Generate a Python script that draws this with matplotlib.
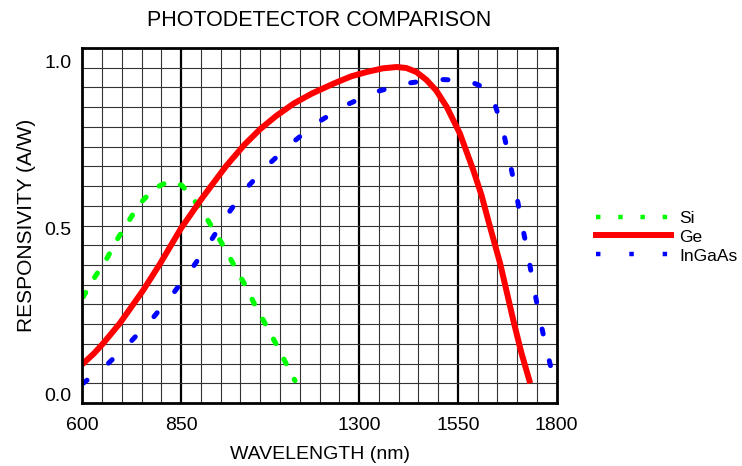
import matplotlib
matplotlib.use("Agg")
import matplotlib.pyplot as plt
import numpy as np
from matplotlib.lines import Line2D

plt.rcParams["font.family"] = ["Liberation Sans", "DejaVu Sans"]

# Responsivity curves (wavelength nm, A/W)
si_nm = [602, 632, 662, 687, 716, 746, 782, 808, 830, 852, 872, 905, 931,
         961, 986, 1012, 1037, 1062, 1087, 1113, 1138]
si_resp = [0.294, 0.354, 0.409, 0.464, 0.519, 0.574, 0.619, 0.634, 0.639,
           0.628, 0.601, 0.549, 0.497, 0.439, 0.384, 0.329, 0.269, 0.215,
           0.160, 0.100, 0.043]

ge_nm = [600, 630, 653, 695, 754, 797, 850, 900, 930, 965, 1010, 1050, 1090,
         1134, 1180, 1235, 1280, 1319, 1360, 1395, 1420, 1445, 1470, 1495,
         1522, 1555, 1589, 1610, 1629, 1657, 1690, 1711, 1733]
ge_resp = [0.092, 0.125, 0.155, 0.215, 0.314, 0.394, 0.500, 0.585, 0.633,
           0.688, 0.750, 0.797, 0.836, 0.873, 0.903, 0.933, 0.955, 0.968,
           0.979, 0.983, 0.980, 0.968, 0.945, 0.913, 0.863, 0.784, 0.674,
           0.598, 0.514, 0.394, 0.225, 0.125, 0.035]

ingaas_nm = [602, 666, 725, 780, 831, 879, 925, 969, 1016, 1071, 1130, 1193,
             1262, 1336, 1414, 1494, 1574, 1610, 1638, 1663, 1680, 1696, 1711,
             1727, 1741, 1756, 1773, 1792]
ingaas_resp = [0.035, 0.095, 0.163, 0.233, 0.306, 0.382, 0.462, 0.544, 0.621,
               0.691, 0.755, 0.815, 0.866, 0.906, 0.933, 0.946, 0.943, 0.925,
               0.891, 0.800, 0.707, 0.614, 0.519, 0.424, 0.329, 0.237, 0.143,
               0.050]

xticks = [600, 850, 1300, 1550, 1800]
yticks = [0.0, 0.5, 1.0]
ytick_labels = ["0.0", "0.5", "1.0"]

GREEN = "#00ff00"
RED = "#ff0000"
BLUE = "#0000ff"

fig = plt.figure(figsize=(7.42, 4.66), dpi=100)
ax = fig.add_axes([82.3 / 742, 1 - 403 / 466, (556.7 - 82.3) / 742, (403 - 48) / 466])

ylo, yhi = -0.024, 1.040
ax.set_xlim(600, 1800)
ax.set_ylim(ylo, yhi)

# chart paper grid
for gx in np.arange(650, 1800, 50):
    thick = gx in (850, 1300, 1550)
    ax.axvline(gx, color="black" if thick else "#333333",
               lw=1.6 if thick else 0.8, zorder=1)
for gy in np.linspace(ylo, yhi, 19)[1:-1]:
    ax.axhline(gy, color="#333333", lw=0.8, zorder=1)

ax.plot(si_nm, si_resp, color=GREEN, lw=3.7, linestyle=(0, (1, 3.4)),
        dash_capstyle="round", zorder=3)
ax.plot(ge_nm, ge_resp, color=RED, lw=4.3, solid_capstyle="butt",
        solid_joinstyle="round", zorder=3)
ax.plot(ingaas_nm, ingaas_resp, color=BLUE, lw=3.6, linestyle=(0, (1.0, 5.5)),
        dash_capstyle="round", zorder=3)

for s in ax.spines.values():
    s.set_linewidth(2.0)
    s.set_zorder(4)

ax.set_xticks(xticks)
ax.set_yticks(yticks)
ax.set_yticklabels(ytick_labels)
ax.tick_params(length=0, labelsize=14, pad=8)
ax.tick_params(axis="x", pad=10)

ax.set_title("PHOTODETECTOR COMPARISON", fontsize=15.5, pad=16)
ax.set_xlabel("WAVELENGTH (nm)", fontsize=14, labelpad=9)
ax.set_ylabel("RESPONSIVITY (A/W)", fontsize=15, labelpad=6)

handles = [
    Line2D([0], [0], color=GREEN, lw=3.2, linestyle=(0, (1, 4)), dash_capstyle="butt"),
    Line2D([0], [0], color=RED, lw=4.3),
    Line2D([0], [0], color=BLUE, lw=3.2, linestyle=(0, (1, 6.5)), dash_capstyle="butt"),
]
fig.legend(handles, ["Si", "Ge", "InGaAs"], loc="center left",
           bbox_to_anchor=(596 / 742, 1 - 237 / 466), frameon=False,
           fontsize=12.5, handlelength=4.3, handletextpad=0.5,
           labelspacing=0.22, borderpad=0, borderaxespad=0)

fig.savefig("out.png", dpi=100)
